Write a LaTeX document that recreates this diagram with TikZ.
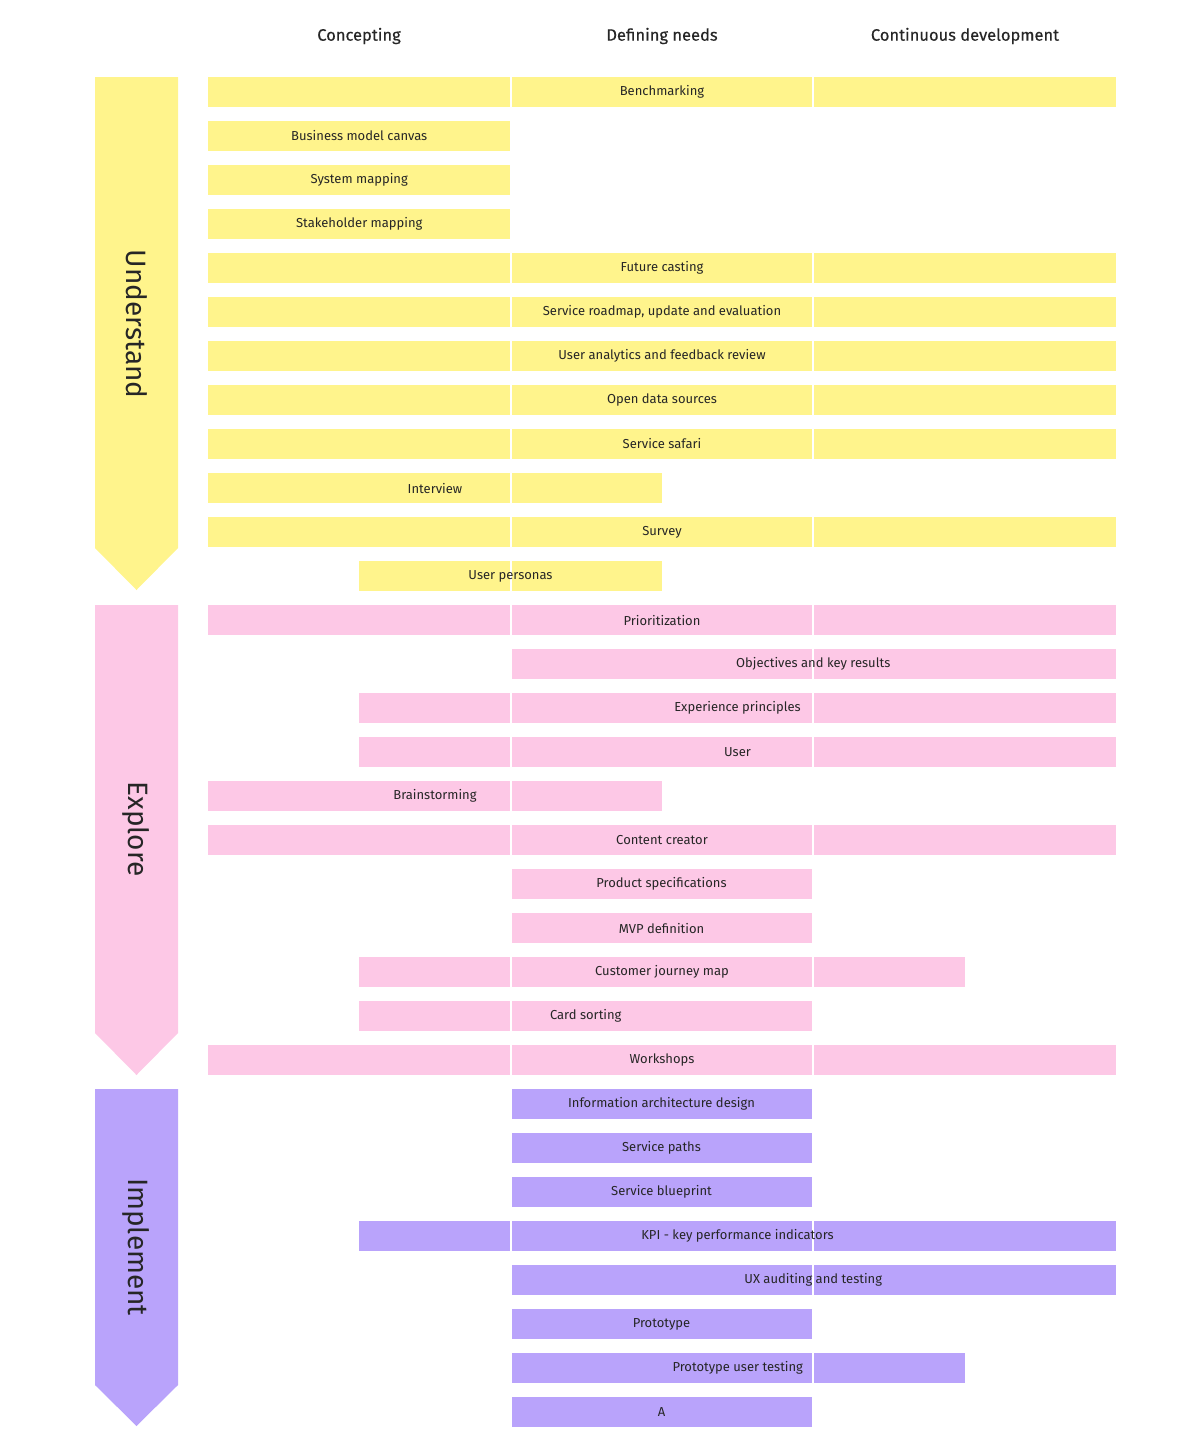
\documentclass[tikz,border=0pt]{standalone}
\usepackage{fontspec}
\setmainfont{Fira Sans}
\definecolor{yel}{HTML}{FFF48C}
\definecolor{pnk}{HTML}{FDC8E6}
\definecolor{pur}{HTML}{B9A3FB}
\begin{document}
\begin{tikzpicture}[x=1pt,y=-1pt,
  bar/.style={inner sep=0pt,minimum height=30pt,font=\fontsize{13}{15}\selectfont,text=black!85},
  head/.style={font=\fontsize{16.5}{19}\selectfont\addfontfeature{FakeBold=0.4},text=black!85},
  phase/.style={font=\fontsize{28}{32}\selectfont,text=black!85,rotate=-90}]
\useasboundingbox (0,0) rectangle (1199,1449);
\node[head] (h1) at (359,36) {Concepting};
\node[head] (h2) at (662,36) {Defining needs};
\node[head] (h3) at (965,36) {Continuous development};
\def\hx#1{\ifcase#1 208\or 359\or 510.5\or 662\or 812.5\or 965\or 1116\fi}
\foreach \i/\a/\b/\c/\t in {
0/0/6/yel/Benchmarking,
1/0/2/yel/Business model canvas,
2/0/2/yel/System mapping,
3/0/2/yel/Stakeholder mapping,
4/0/6/yel/Future casting,
5/0/6/yel/{Service roadmap, update and evaluation},
6/0/6/yel/User analytics and feedback review,
7/0/6/yel/Open data sources,
8/0/6/yel/Service safari,
9/0/3/yel/Interview,
10/0/6/yel/Survey,
11/1/3/yel/User personas,
12/0/6/pnk/Prioritization,
13/2/6/pnk/Objectives and key results,
14/1/6/pnk/Experience principles,
15/1/6/pnk/User/customer paths,
16/0/3/pnk/Brainstorming,
17/0/6/pnk/Content creator/editor coaching,
18/2/4/pnk/Product specifications,
19/2/4/pnk/MVP definition,
20/1/5/pnk/Customer journey map,
21/1/4/pnk/Card sorting,
22/0/6/pnk/Workshops,
23/2/4/pur/Information architecture design,
24/2/4/pur/Service paths,
25/2/4/pur/Service blueprint,
26/1/6/pur/KPI - key performance indicators,
27/2/6/pur/UX auditing and testing,
28/2/4/pur/Prototype,
29/2/5/pur/Prototype user testing,
30/2/4/pur/A/B testing}{
  \pgfmathsetmacro\xa{\hx{\a}}
  \pgfmathsetmacro\xb{\hx{\b}}
  \pgfmathsetmacro\xc{(\xa+\xb)/2}
  \pgfmathsetmacro\w{\xb-\xa}
  \pgfmathsetmacro\yy{92+44*\i}
  \node[bar,fill=\c,minimum width=\w pt] (r\i) at (\xc,\yy) {};
}
\foreach \x in {510.5,812.5}
  \draw[white,line width=2pt] (\x,70) -- (\x,1430);
\foreach \i/\a/\b/\t in {
0/0/6/Benchmarking,
1/0/2/Business model canvas,
2/0/2/System mapping,
3/0/2/Stakeholder mapping,
4/0/6/Future casting,
5/0/6/{Service roadmap, update and evaluation},
6/0/6/User analytics and feedback review,
7/0/6/Open data sources,
8/0/6/Service safari,
9/0/3/Interview,
10/0/6/Survey,
11/1/3/User personas,
12/0/6/Prioritization,
13/2/6/Objectives and key results,
14/1/6/Experience principles,
15/1/6/User/customer paths,
16/0/3/Brainstorming,
17/0/6/Content creator/editor coaching,
18/2/4/Product specifications,
19/2/4/MVP definition,
20/1/5/Customer journey map,
21/1/4/Card sorting,
22/0/6/Workshops,
23/2/4/Information architecture design,
24/2/4/Service paths,
25/2/4/Service blueprint,
26/1/6/KPI - key performance indicators,
27/2/6/UX auditing and testing,
28/2/4/Prototype,
29/2/5/Prototype user testing,
30/2/4/A/B testing}{
  \node[bar] (t\i) at (r\i.center) {\t};
}
\fill[yel] (95,77) -- (178,77) -- (178,548) -- (136.5,590) -- (95,548) -- cycle;
\fill[pnk] (95,605) -- (178,605) -- (178,1033) -- (136.5,1075) -- (95,1033) -- cycle;
\fill[pur] (95,1089) -- (178,1089) -- (178,1385) -- (136.5,1426) -- (95,1385) -- cycle;
\node[phase] (p1) at (136.5,324) {Understand};
\node[phase] (p2) at (136.5,829) {Explore};
\node[phase] (p3) at (136.5,1247) {Implement};
\end{tikzpicture}
\end{document}
